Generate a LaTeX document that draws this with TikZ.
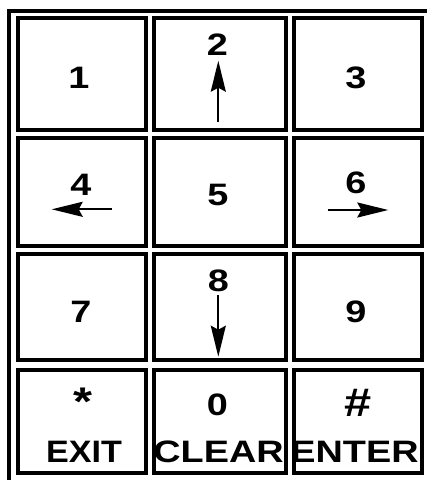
\documentclass[tikz,border=0pt]{standalone}
\usepackage{fontspec}
\setmainfont{Liberation Sans}
\usetikzlibrary{arrows.meta}
\tikzset{
  keybox/.style={line width=4.2pt},
  keylbl/.style={font=\fontsize{31}{31}\selectfont\bfseries, inner sep=0pt, anchor=base},
  biglbl/.style={keylbl, font=\fontsize{40}{40}\selectfont\bfseries},
  keyarrow/.style={line width=2pt, -{Stealth[length=31pt,width=15pt,inset=4pt]}},
}
\newcommand{\wide}[2][1.22]{\scalebox{#1}[1]{#2}}
\begin{document}
\begin{tikzpicture}[x=1pt,y=-1pt]
\useasboundingbox (0,0) rectangle (427,480);
% outer frame
\draw[keybox] (9.2,480) -- (9.2,11) -- (427,11);
% keys
\draw[keybox] (18,18) rectangle (146.3,130.3);
\draw[keybox] (154.3,18) rectangle (286.3,130.3);
\draw[keybox] (294.3,18) rectangle (422.3,130.3);
\draw[keybox] (18,138.3) rectangle (146.3,246.3);
\draw[keybox] (154.3,138.3) rectangle (286.3,246.3);
\draw[keybox] (294.3,138.3) rectangle (422.3,246.3);
\draw[keybox] (18,254.3) rectangle (146.3,360);
\draw[keybox] (154.3,254.3) rectangle (286.3,360);
\draw[keybox] (294.3,254.3) rectangle (422.3,360);
\draw[keybox] (18,369.7) rectangle (146.3,473.3);
\draw[keybox] (154.3,369.7) rectangle (286.3,473.3);
\draw[keybox] (294.3,369.7) rectangle (422.3,473.3);
% labels
\node[keylbl] (k1) at (79,88.3) {\wide{1}};
\node[keylbl] (k2) at (217.5,55) {\wide{2}};
\node[keylbl] (k3) at (356,88) {\wide{3}};
\node[keylbl] (k4) at (81,195) {\wide{4}};
\node[keylbl] (k5) at (218,205) {\wide{5}};
\node[keylbl] (k6) at (356,193.3) {\wide{6}};
\node[keylbl] (k7) at (81,322) {\wide{7}};
\node[keylbl] (k8) at (218.3,291.7) {\wide{8}};
\node[keylbl] (k9) at (356,322) {\wide{9}};
\node[biglbl] (kstar) at (83,415) {\wide{*}};
\node[keylbl] (k0) at (217.5,415) {\wide{0}};
\node[biglbl] (khash) at (358,416) {\wide{\#}};
\node[keylbl] (lexit) at (84,462) {\wide[1.1]{EXIT}};
\node[keylbl] (lclear) at (218.5,462) {\wide{CLEAR}};
\node[keylbl] (lenter) at (354.5,462) {\wide{ENTER}};
% arrows
\coordinate (up0) at (218.3,121.7);
\coordinate (up1) at (218.3,60.7);
\coordinate (lt0) at (111.7,209.3);
\coordinate (lt1) at (51.7,209.3);
\coordinate (rt0) at (327.7,210);
\coordinate (rt1) at (388.3,210);
\coordinate (dn0) at (218.3,295);
\coordinate (dn1) at (218.3,356.7);
\draw[keyarrow] (up0) -- (up1);
\draw[keyarrow] (lt0) -- (lt1);
\draw[keyarrow] (rt0) -- (rt1);
\draw[keyarrow] (dn0) -- (dn1);
\end{tikzpicture}
\end{document}
